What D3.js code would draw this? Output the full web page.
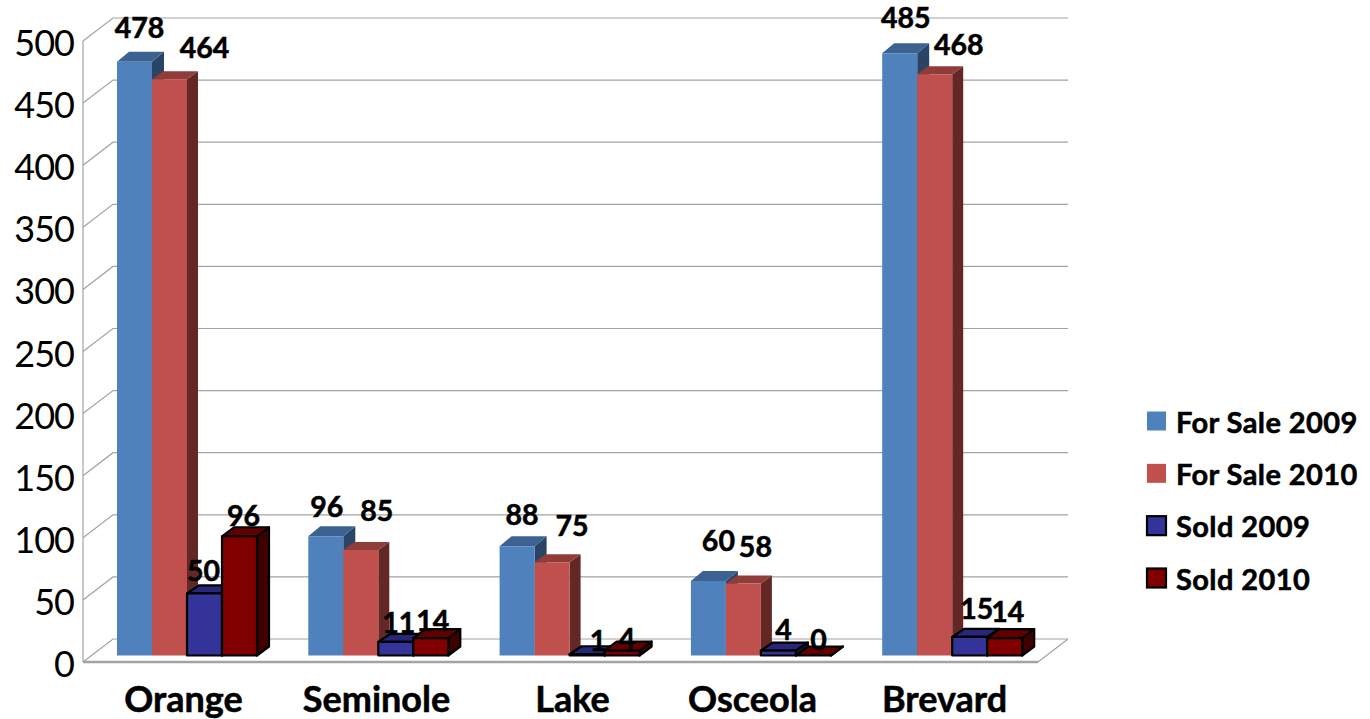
<!DOCTYPE html>
<html><head><meta charset="utf-8">
<script src="https://cdn.jsdelivr.net/npm/d3@7/dist/d3.min.js"></script>
<style>html,body{margin:0;padding:0;background:#fff}svg{display:block}text{font-family:Lato,sans-serif;fill:#000}.b{stroke:#000;stroke-width:.55px}</style>
</head><body><svg id="c" width="1370" height="719"></svg>
<script>
const categories = ["Orange","Seminole","Lake","Osceola","Brevard"];
const seriesNames = ["For Sale 2009","For Sale 2010","Sold 2009","Sold 2010"];
const forSale2009 = [478,96,88,60,485];
const forSale2010 = [464,85,75,58,468];
const sold2009 = [50,11,1,4,15];
const sold2010 = [96,14,4,0,14];
const yTicks = [0,50,100,150,200,250,300,350,400,450,500];

// layout only
const seriesValues = [forSale2009,forSale2010,sold2009,sold2010];
const faces = [
 {front:"#4f81bd",top:"#3c6291",side:"#2a4466",stroke:"none",dx:12,dy:-10},
 {front:"#c0504d",top:"#8f3c3a",side:"#632826",stroke:"none",dx:11,dy:-8},
 {front:"#333399",top:"#26267a",side:"#1a1a50",stroke:"#000",dx:12,dy:-8},
 {front:"#800000",top:"#600000",side:"#400000",stroke:"#000",dx:12,dy:-9}
];
// label centre relative to bar centre / bar top, per series then category
const labelNudge = [
 [[5,-35],[1,-30],[5,-32],[10,-41],[6,-36]],
 [[35,-32],[16,-40],[20,-37],[12,-37],[24,-30]],
 [[-1,-23],[3,-20],[11,-14],[5,-22],[7,-29]],
 [[4,-21],[2,-18],[5,-13],[5,-17],[3,-27]]
];
const catNudge = [-1,2,8,-2,0];
const wall = {x:83,dx:30,dy:-23,right:1068};

const svg = d3.select("#c");
const yFront = d3.scaleLinear().domain([0,500]).range([662,41]);
const yBar = d3.scaleLinear().domain([0,500]).range([655.5,34.5]);
const x0 = d3.scaleBand().domain(categories).range([91.5,1048]);
const x1 = d3.scaleBand().domain(seriesNames).range([25.5,165.5]);
const line = d3.line();

// walls & gridlines
const grid = svg.append("g").attr("fill","none").attr("stroke","#a3a3a3").attr("stroke-width",1.2);
grid.selectAll("path").data(yTicks).join("path")
  .attr("d",v=>line([[wall.x,yFront(v)],[wall.x+wall.dx,yFront(v)+wall.dy],[wall.right,yFront(v)+wall.dy]]));
grid.append("path").attr("d",line([[wall.x,yFront(0)],[wall.x,yFront(500)]]));
grid.append("path").attr("d",line([[wall.right-wall.dx,yFront(0)],[wall.right,yFront(0)+wall.dy]]));
grid.append("path").attr("stroke-width",2.4).attr("d",line([[wall.x,yFront(0)],[wall.right-wall.dx,yFront(0)]]));

// bars
seriesNames.forEach((s,si)=>{
  const f = faces[si];
  const g = svg.append("g").attr("stroke",f.stroke).attr("stroke-width",f.stroke==="none"?0:2.2).attr("stroke-linejoin","round");
  categories.forEach((c,ci)=>{
    const v = seriesValues[si][ci];
    const l = x0(c)+x1(s), r = l+x1.bandwidth(), t = yBar(v), b = yBar(0);
    const poly = pts=>line(pts)+"Z";
    g.append("path").attr("fill",f.side).attr("d",poly([[r,t],[r+f.dx,t+f.dy],[r+f.dx,b+f.dy],[r,b]]));
    g.append("path").attr("fill",f.top).attr("d",poly([[l,t],[l+f.dx,t+f.dy],[r+f.dx,t+f.dy],[r,t]]));
    if(v>0) g.append("path").attr("fill",f.front).attr("d",poly([[l,t],[r,t],[r,b],[l,b]]));
  });
});

// value labels
const labels = svg.append("g").attr("font-weight",700).attr("font-size",28.5).attr("text-anchor","middle");
seriesNames.forEach((s,si)=>categories.forEach((c,ci)=>{
  const v = seriesValues[si][ci], n = labelNudge[si][ci];
  labels.append("text").attr("class","b").attr("x",x0(c)+x1(s)+x1.bandwidth()/2+n[0]).attr("y",yBar(v)+n[1])
    .attr("dominant-baseline","central").text(v);
}));

// axes
const yAxis = svg.append("g").attr("transform","translate(74,3)")
  .call(d3.axisLeft(yFront).tickValues(yTicks).tickSize(0).tickPadding(0));
yAxis.select(".domain").remove();
yAxis.selectAll("text").attr("font-size",36).attr("letter-spacing",-1).attr("font-family","Lato").attr("fill","#000");

const xCat = d3.scalePoint().domain(categories).range([184,944]);
const xAxis = svg.append("g").attr("transform","translate(0,686)")
  .call(d3.axisBottom(xCat).tickSize(0).tickPadding(0));
xAxis.select(".domain").remove();
xAxis.selectAll("text").attr("class","b").attr("font-size",36).attr("font-weight",700).attr("font-family","Lato").attr("fill","#000")
  .attr("dy","0.71em").attr("x",(d,i)=>catNudge[i]);

// legend
const yLegend = d3.scalePoint().domain(seriesNames).range([421,578]);
const leg = svg.append("g").selectAll("g").data(seriesNames).join("g")
  .attr("transform",d=>`translate(1147,${yLegend(d)})`);
leg.append("rect").attr("x",0).attr("y",-9.5).attr("width",19).attr("height",19)
  .attr("fill",(d,i)=>faces[i].front)
  .attr("stroke",(d,i)=>faces[i].stroke).attr("stroke-width",(d,i)=>faces[i].stroke==="none"?0:2.2);
leg.append("text").attr("class","b").attr("x",29).attr("y",0).attr("dominant-baseline","central")
  .attr("font-weight",700).attr("font-size",29).attr("letter-spacing",0.4).text(d=>d);
</script></body></html>
